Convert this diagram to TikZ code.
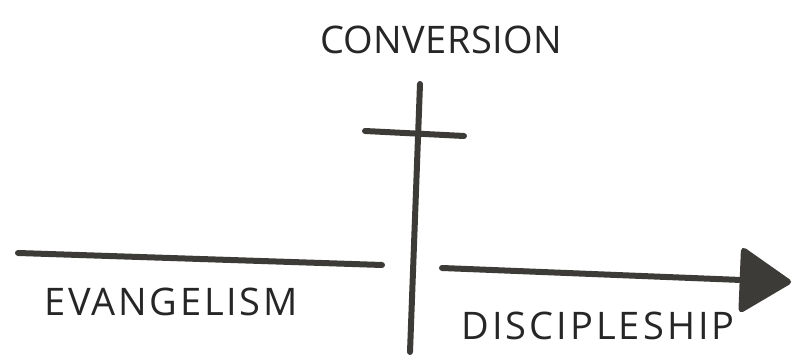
\documentclass[tikz,border=0pt]{standalone}
\usepackage{fontspec}
\setsansfont{Open Sans}
\usepackage{tikz}
\usetikzlibrary{arrows.meta}
\definecolor{pencil}{HTML}{3C3B38}
\newcommand{\spaced}[2]{{\addfontfeatures{LetterSpace=#1}#2}}
\tikzset{stroke/.style={draw=pencil, line width=3pt, line cap=round},
  word/.style={font=\sffamily\fontsize{19}{22}\selectfont, text=black!85}}

\begin{document}
\begin{tikzpicture}[x=0.5pt,y=-0.5pt]
\useasboundingbox (0,0) rectangle (793,356);
% labels
\node[word] (conv) at (441,40) {\spaced{1}{CONVERSION}};
\node[word] (evan) at (171,302) {\spaced{7}{EVANGELISM}};
\node[word] (disc) at (598,326) {\spaced{8}{DISCIPLESHIP}};
% cross
\coordinate (crosstop) at (420,84);
\coordinate (crossbot) at (410,352);
\coordinate (barleft) at (365,131);
\coordinate (barright) at (464,136);
\draw[stroke] (crosstop) -- (crossbot);
\draw[stroke] (barleft) -- (barright);
% timeline
\coordinate (lstart) at (18,253);
\coordinate (lend) at (382,265);
\coordinate (rstart) at (442,268);
\coordinate (rend) at (791,282);
\draw[stroke] (lstart) -- (lend);
\draw[stroke, -{Triangle[length=27pt,width=34pt,round]}, fill=pencil] (rstart) -- (rend);
\end{tikzpicture}
\end{document}
